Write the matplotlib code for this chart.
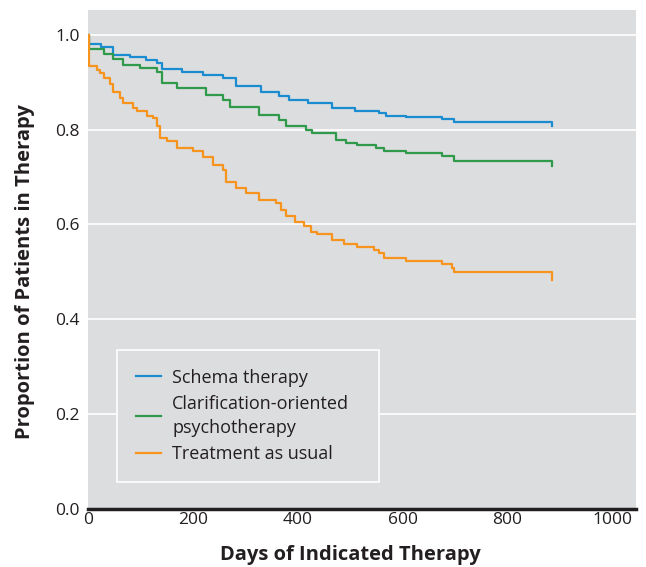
import matplotlib.pyplot as plt

# Kaplan-Meier step data (days, proportion)
schema_days = [0, 2, 25, 48, 80, 110, 131, 142, 180, 220, 257, 283, 330, 365, 384, 420, 466, 510, 555, 568, 606, 675, 698, 886]
schema_vals = [1.0, 0.980, 0.975, 0.958, 0.952, 0.946, 0.940, 0.928, 0.922, 0.915, 0.909, 0.891, 0.880, 0.871, 0.863, 0.855, 0.846, 0.840, 0.835, 0.828, 0.826, 0.822, 0.815, 0.808]

clar_days = [0, 2, 30, 48, 67, 100, 131, 141, 169, 226, 257, 270, 327, 365, 378, 416, 428, 473, 492, 513, 549, 565, 606, 675, 698, 886]
clar_vals = [1.0, 0.970, 0.960, 0.949, 0.937, 0.930, 0.922, 0.898, 0.887, 0.873, 0.863, 0.848, 0.831, 0.821, 0.807, 0.800, 0.793, 0.778, 0.771, 0.768, 0.761, 0.754, 0.750, 0.745, 0.734, 0.724]

tau_days = [0, 2, 17, 23, 30, 42, 48, 61, 67, 86, 93, 112, 124, 131, 137, 150, 169, 200, 219, 238, 257, 264, 283, 302, 327, 359, 369, 378, 395, 412, 426, 437, 466, 489, 513, 546, 555, 565, 606, 675, 694, 699, 886]
tau_vals = [1.0, 0.933, 0.926, 0.920, 0.909, 0.895, 0.880, 0.867, 0.856, 0.845, 0.838, 0.828, 0.825, 0.807, 0.782, 0.775, 0.761, 0.754, 0.743, 0.726, 0.715, 0.690, 0.677, 0.666, 0.652, 0.645, 0.631, 0.617, 0.606, 0.596, 0.585, 0.580, 0.567, 0.559, 0.553, 0.545, 0.540, 0.530, 0.523, 0.516, 0.508, 0.499, 0.483]

labels = ['Schema therapy', 'Clarification-oriented\npsychotherapy', 'Treatment as usual']
colors = ['#1a8ccf', '#2e9a4a', '#f7941d']

plt.rcParams['font.family'] = ['Open Sans', 'DejaVu Sans']

fig = plt.figure(figsize=(6.46, 5.67), dpi=100)
ax = fig.add_axes([0.1362, 0.1023, 0.848, 0.8801])
ax.set_facecolor('#dcdddf')

for d, v, c, lab in zip([schema_days, clar_days, tau_days], [schema_vals, clar_vals, tau_vals], colors, labels):
    ax.step(d, v, where='post', color=c, linewidth=1.6, label=lab)

xmax, ymax = 1045, 1.052
ax.set_xlim(0, xmax)
ax.set_ylim(0, ymax)
ax.set_xticks([0, 200, 400, 600, 800, 1000])
ax.set_yticks([0.0, 0.2, 0.4, 0.6, 0.8, 1.0])
ax.set_yticklabels(['0.0', '0.2', '0.4', '0.6', '0.8', '1.0'])
ax.grid(axis='y', color='white', linewidth=1.2)
ax.set_axisbelow(True)
for s in ['top', 'right', 'left']:
    ax.spines[s].set_visible(False)
ax.spines['bottom'].set_linewidth(2.5)
ax.spines['bottom'].set_color('#231f20')
ax.tick_params(length=0, labelsize=12.5, colors='#231f20')
ax.tick_params(axis='y', pad=6)
ax.tick_params(axis='x', pad=2)

# labels centred on the 0-1000 / 0-1.0 range, like the original
ax.set_xlabel('Days of Indicated Therapy', fontsize=14.5, fontweight='bold', color='#231f20')
ax.xaxis.set_label_coords(500 / xmax, -0.072)
ax.set_ylabel('Proportion of Patients in Therapy', fontsize=14.5, fontweight='bold', color='#231f20')
ax.yaxis.set_label_coords(-0.097, 0.5 / ymax)

leg = ax.legend(loc='lower left', bbox_to_anchor=(0.053, 0.054, 0.479, 0.275), mode='expand',
                fontsize=13, frameon=True, fancybox=False, handlelength=1.4, handletextpad=0.6,
                borderpad=1.05, labelspacing=0.45, borderaxespad=0)
leg.get_frame().set_facecolor('#dcdddf')
leg.get_frame().set_edgecolor('white')
leg.get_frame().set_linewidth(1.2)
leg.get_frame().set_alpha(1)
for t in leg.get_texts():
    t.set_color('#231f20')
    t.set_linespacing(1.45)

fig.savefig('out.png', dpi=100)
